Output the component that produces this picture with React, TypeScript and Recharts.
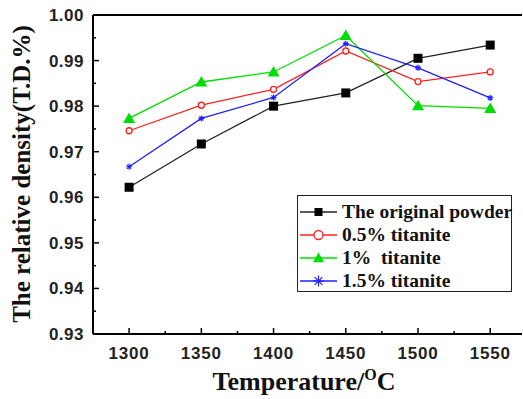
import React from 'react';
import { LineChart, Line, XAxis, YAxis, ReferenceLine, Label } from 'recharts';

// sintering temperature (°C)
const temperatures = [1300, 1350, 1400, 1450, 1500, 1550];

// relative density
const originalPowder = [0.9622, 0.9717, 0.9800, 0.9829, 0.9905, 0.9934];
const titanite05 = [0.9746, 0.9802, 0.9837, 0.9921, 0.9854, 0.9875];
const titanite1 = [0.9773, 0.9853, 0.9875, 0.9955, 0.9801, 0.9795];
const titanite15 = [0.9667, 0.9773, 0.9819, 0.9937, 0.9884, 0.9818];

const xTicks = [1300, 1325, 1350, 1375, 1400, 1425, 1450, 1475, 1500, 1525, 1550];
const yTicks = [0.93, 0.935, 0.94, 0.945, 0.95, 0.955, 0.96, 0.965, 0.97, 0.975, 0.98, 0.985, 0.99, 0.995, 1.0];

const data = temperatures.map((t, i) => ({
  t,
  orig: originalPowder[i],
  t05: titanite05[i],
  t1: titanite1[i],
  t15: titanite15[i],
}));

const serif = '"Liberation Serif", "Times New Roman", serif';
const sans = '"Liberation Sans", Arial, sans-serif';

const Square = ({ cx, cy, size = 9 }: any) => (
  <rect x={cx - size / 2} y={cy - size / 2} width={size} height={size} fill="#000" />
);
const Circle = ({ cx, cy, r = 4.6 }: any) => (
  <circle cx={cx} cy={cy} r={r} fill="#fff" stroke="#ff2020" strokeWidth={1.3} />
);
const Triangle = ({ cx, cy, s = 6 }: any) => (
  <polygon points={`${cx},${cy - s} ${cx - s},${cy + s * 0.75} ${cx + s},${cy + s * 0.75}`} fill="#00dd00" />
);
const Star = ({ cx, cy, r = 5.5 }: any) => (
  <g stroke="#2020ff" strokeWidth={1.2}>
    <line x1={cx - r} y1={cy} x2={cx + r} y2={cy} />
    <line x1={cx} y1={cy - r} x2={cx} y2={cy + r} />
    <line x1={cx - r * 0.7} y1={cy - r * 0.7} x2={cx + r * 0.7} y2={cy + r * 0.7} />
    <line x1={cx - r * 0.7} y1={cy + r * 0.7} x2={cx + r * 0.7} y2={cy - r * 0.7} />
  </g>
);

const XTick = ({ x, y, payload }: any) => {
  const major = payload.value % 50 === 0;
  return (
    <g>
      <line x1={x} y1={y} x2={x} y2={y - (major ? 6 : 3)} stroke="#000" strokeWidth={1.5} />
      {major && (
        <text x={x} y={y + 25} textAnchor="middle" fontFamily={sans} fontWeight="bold" fontSize={17} letterSpacing={0.8} fill="#222">
          {payload.value}
        </text>
      )}
    </g>
  );
};

const YTick = ({ x, y, payload }: any) => {
  const major = Math.round(payload.value * 1000) % 10 === 0;
  return (
    <g>
      <line x1={x} y1={y} x2={x + (major ? 6 : 3)} y2={y} stroke="#000" strokeWidth={1.5} />
      {major && (
        <text x={x - 9} y={y + 6} textAnchor="end" fontFamily={sans} fontWeight="bold" fontSize={17} letterSpacing={0.5} fill="#222">
          {payload.value.toFixed(2)}
        </text>
      )}
    </g>
  );
};

const legendItems = [
  { label: 'The original powder', color: '#222', Icon: Square },
  { label: '0.5% titanite', color: '#ff2020', Icon: Circle },
  { label: '1%  titanite', color: '#00dd00', Icon: Triangle },
  { label: '1.5% titanite', color: '#2020ff', Icon: Star },
];

const LegendBox = () => (
  <div
    style={{
      position: 'absolute',
      left: 297,
      top: 195,
      border: '1.5px solid #222',
      width: 215,
      height: 97,
      boxSizing: 'border-box',
      padding: '4px 0 0 2px',
      background: '#fff',
      fontFamily: serif,
      fontWeight: 'bold',
      fontSize: 19.5,
      color: '#111',
    }}
  >
    {legendItems.map(({ label, color, Icon }) => (
      <div key={label} style={{ display: 'flex', alignItems: 'center', height: 23, whiteSpace: 'pre' }}>
        <svg width={37} height={16} style={{ flex: 'none' }}>
          <line x1={0} y1={8} x2={37} y2={8} stroke={color} strokeWidth={1.3} />
          <Icon cx={18.5} cy={8} size={8} r={label.startsWith('0.5') ? 4.5 : 5.5} s={5.5} />
        </svg>
        <span style={{ marginLeft: 5 }}>{label}</span>
      </div>
    ))}
  </div>
);

export default function App() {
  return (
    <div style={{ position: 'absolute', left: 0, top: 0, width: 523, height: 399, background: '#fff' }}>
      <LineChart width={523} height={399} data={data} margin={{ top: 15, right: 1, left: 0, bottom: 0 }}>
        <XAxis
          dataKey="t"
          type="number"
          domain={[1275, 1572]}
          ticks={xTicks}
          tick={<XTick />}
          tickLine={false}
          tickSize={0}
          tickMargin={0}
          height={65}
          axisLine={{ stroke: '#000', strokeWidth: 2 }}
          interval={0}
        >
          <Label
            content={() => (
              <text x={304} y={390} textAnchor="middle" fontFamily={serif} fontWeight="bold" fontSize={26} fill="#111">
                Temperature/
                <tspan dy={-10} fontSize={16}>O</tspan>
                <tspan dy={10}>C</tspan>
              </text>
            )}
          />
        </XAxis>
        <YAxis
          type="number"
          domain={[0.93, 1.0]}
          ticks={yTicks}
          tick={<YTick />}
          tickLine={false}
          tickSize={0}
          tickMargin={0}
          width={93}
          axisLine={{ stroke: '#000', strokeWidth: 2 }}
          interval={0}
          allowDataOverflow
        >
          <Label
            content={() => (
              <text
                x={0}
                y={0}
                transform="translate(30,174) rotate(-90)"
                textAnchor="middle"
                fontFamily={serif}
                fontWeight="bold"
                fontSize={25}
                fill="#111"
              >
                The relative density(T.D.%)
              </text>
            )}
          />
        </YAxis>
        <ReferenceLine y={1.0} stroke="#000" strokeWidth={2} />
        <Line dataKey="orig" stroke="#222" strokeWidth={1.3} dot={<Square />} isAnimationActive={false} />
        <Line dataKey="t05" stroke="#ff2020" strokeWidth={1.3} dot={<Circle />} isAnimationActive={false} />
        <Line dataKey="t1" stroke="#00dd00" strokeWidth={1.3} dot={<Triangle />} isAnimationActive={false} />
        <Line dataKey="t15" stroke="#2020ff" strokeWidth={1.3} dot={<Star />} isAnimationActive={false} />
      </LineChart>
      <LegendBox />
    </div>
  );
}
